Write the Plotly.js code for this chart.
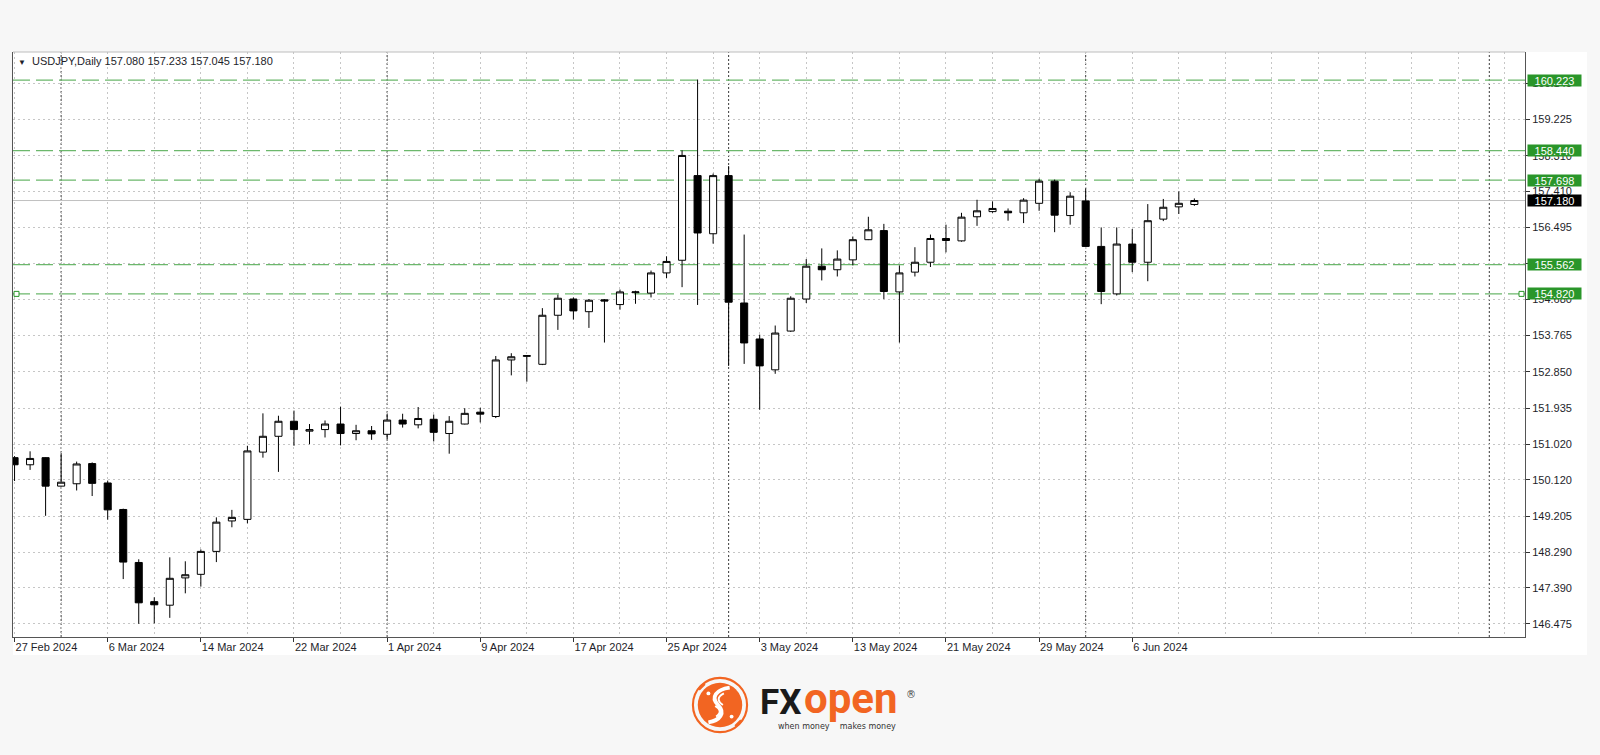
<!DOCTYPE html>
<html>
<head>
<meta charset="utf-8">
<script src="https://cdn.plot.ly/plotly-3.0.1.min.js"></script>
<style>
  html, body { margin: 0; padding: 0; background: #f7f7f7; }
  #chart { width: 1600px; height: 755px; }
</style>
</head>
<body>
<div id="chart"></div>
<script>
// ---- data (USDJPY, Daily) ----
const dates = [
  "2024-02-27","2024-02-28","2024-02-29","2024-03-01",
  "2024-03-04","2024-03-05","2024-03-06","2024-03-07","2024-03-08",
  "2024-03-11","2024-03-12","2024-03-13","2024-03-14","2024-03-15",
  "2024-03-18","2024-03-19","2024-03-20","2024-03-21","2024-03-22",
  "2024-03-25","2024-03-26","2024-03-27","2024-03-28","2024-03-29",
  "2024-04-01","2024-04-02","2024-04-03","2024-04-04","2024-04-05",
  "2024-04-08","2024-04-09","2024-04-10","2024-04-11","2024-04-12",
  "2024-04-15","2024-04-16","2024-04-17","2024-04-18","2024-04-19",
  "2024-04-22","2024-04-23","2024-04-24","2024-04-25","2024-04-26",
  "2024-04-29","2024-04-30","2024-05-01","2024-05-02","2024-05-03",
  "2024-05-06","2024-05-07","2024-05-08","2024-05-09","2024-05-10",
  "2024-05-13","2024-05-14","2024-05-15","2024-05-16","2024-05-17",
  "2024-05-20","2024-05-21","2024-05-22","2024-05-23","2024-05-24",
  "2024-05-27","2024-05-28","2024-05-29","2024-05-30","2024-05-31",
  "2024-06-03","2024-06-04","2024-06-05","2024-06-06","2024-06-07",
  "2024-06-10","2024-06-11","2024-06-12"
];
const openP = [
  150.68,150.50,150.68,149.96,150.02,150.53,150.04,149.37,148.03,147.04,
  146.95,147.64,147.73,148.31,149.08,149.12,150.82,151.22,151.60,151.35,
  151.39,151.53,151.29,151.36,151.27,151.63,151.51,151.65,151.29,151.53,
  151.83,151.72,153.15,153.24,153.04,154.28,154.69,154.37,154.67,154.55,
  154.85,154.84,155.35,155.67,157.81,156.34,157.81,154.59,153.68,152.90,
  153.88,154.69,155.52,155.43,155.68,156.19,156.42,154.87,155.37,155.62,
  156.22,156.16,156.77,156.90,156.91,156.87,157.11,157.67,156.80,157.17,
  156.02,154.82,156.08,155.62,156.71,157.02,157.080
];
const highP = [
  150.72,150.84,150.69,150.79,150.58,150.56,150.10,149.39,148.11,147.15,
  148.16,148.06,148.36,149.17,149.36,150.98,151.80,151.74,151.87,151.53,
  151.62,151.97,151.51,151.48,151.79,151.79,151.96,151.77,151.73,151.93,
  151.94,153.25,153.32,153.27,154.46,154.80,154.73,154.69,154.69,154.93,
  154.90,155.41,155.77,158.45,160.24,157.86,158.05,156.32,153.79,154.02,
  154.76,155.70,155.97,155.92,156.27,156.77,156.59,155.54,156.00,156.32,
  156.57,156.87,157.20,157.16,156.98,157.24,157.73,157.71,157.39,157.49,
  156.50,156.50,156.46,157.09,157.22,157.41,157.233
];
const lowP = [
  150.09,150.37,149.21,149.95,149.85,149.71,149.11,147.61,146.48,146.49,
  146.63,147.25,147.42,148.04,148.92,149.02,150.68,150.32,150.98,151.02,
  151.19,150.99,151.12,151.13,151.15,151.44,151.42,151.09,150.78,151.52,
  151.57,151.68,152.76,152.60,153.02,153.91,154.17,153.96,153.59,154.42,
  154.57,154.73,155.22,154.99,154.54,156.09,153.00,153.05,151.89,152.80,
  153.86,154.59,155.16,155.26,155.54,156.18,154.69,153.59,155.26,155.50,
  155.87,156.14,156.54,156.87,156.67,156.61,156.92,156.38,156.57,156.01,
  154.56,154.78,155.37,155.14,156.66,156.84,157.045
];
const closeP = [
  150.50,150.66,149.96,150.06,150.52,150.03,149.36,148.04,147.01,146.96,
  147.63,147.72,148.31,149.05,149.17,150.85,151.22,151.60,151.39,151.39,
  151.53,151.29,151.36,151.28,151.63,151.53,151.67,151.32,151.60,151.80,
  151.78,153.15,153.23,153.26,154.28,154.71,154.39,154.66,154.64,154.87,
  154.87,155.35,155.64,158.32,156.36,157.81,154.61,153.58,153.00,153.83,
  154.71,155.52,155.43,155.70,156.19,156.44,154.88,155.35,155.62,156.22,
  156.17,156.76,156.92,156.98,156.87,157.19,157.67,156.81,157.29,156.02,
  154.88,156.08,155.62,156.67,157.01,157.11,157.180
];
const tickDates = ["2024-02-27","2024-03-06","2024-03-14","2024-03-22","2024-04-01","2024-04-09",
  "2024-04-17","2024-04-25","2024-05-03","2024-05-13","2024-05-21","2024-05-29","2024-06-06"];
const tickText = ["27 Feb 2024","6 Mar 2024","14 Mar 2024","22 Mar 2024","1 Apr 2024","9 Apr 2024",
  "17 Apr 2024","25 Apr 2024","3 May 2024","13 May 2024","21 May 2024","29 May 2024","6 Jun 2024"];
const priceTicks = [146.475,147.390,148.290,149.205,150.120,151.020,151.935,152.850,153.765,
  154.680,155.580,156.495,157.410,158.310,159.225,160.140];
const separatorDates = ["2024-03-01","2024-04-01","2024-05-01","2024-06-03"];
const futureSeparatorBars = [95];
const levelPrices = [160.223, 158.440, 157.698, 155.562, 154.820];
const selectedLevel = 154.820;
const bidPrice = 157.180;
const symbolName = "USDJPY,Daily";

// ---- geometry / styles ----
const PLOT = {l: 13, r: 75, t: 52, b: 118, W: 1600, H: 755};
const pw = PLOT.W - PLOT.l - PLOT.r, ph = PLOT.H - PLOT.t - PLOT.b;
const px2x = px => (px - PLOT.l) / pw;
const py2y = py => (PLOT.H - PLOT.b - py) / ph;

const xIdx = dates.map((d, i) => i);
const tickVals = tickDates.map(d => dates.indexOf(d));
const sepBars = separatorDates.map(d => dates.indexOf(d)).concat(futureSeparatorBars);

const GRID = '#c6c6c6';
const GREEN_LINE = '#6cb86c';
const GREEN_BOX = '#2a962a';
const AXIS_FONT = {family: 'Liberation Sans, Arial, sans-serif', size: 11, color: '#1e1e2a'};

const trace = {
  type: 'candlestick',
  x: xIdx, open: openP, high: highP, low: lowP, close: closeP,
  increasing: {line: {color: '#000000', width: 1}, fillcolor: '#ffffff'},
  decreasing: {line: {color: '#000000', width: 1}, fillcolor: '#000000'},
  whiskerwidth: 0,
  hoverinfo: 'skip',
  showlegend: false
};

const shapes = [];
// white panel behind chart and axes
shapes.push({type: 'rect', layer: 'below', xref: 'paper', yref: 'paper',
  x0: 0, x1: px2x(1587), y0: py2y(655), y1: 1, fillcolor: '#ffffff', line: {width: 0}});
// top border
shapes.push({type: 'line', xref: 'paper', yref: 'paper', x0: 0, x1: 1, y0: 1, y1: 1,
  line: {color: '#bdbdbd', width: 1}});
// period separators
sepBars.forEach(b => shapes.push({type: 'line', layer: 'below', xref: 'x', yref: 'paper',
  x0: b, x1: b, y0: 0, y1: 1, line: {color: '#3a3a3a', width: 1, dash: '2px,2px'}}));
// level lines
levelPrices.forEach(p => shapes.push({type: 'line', layer: 'below', xref: 'paper', yref: 'y',
  x0: 0, x1: 1, y0: p, y1: p, line: {color: GREEN_LINE, width: 1.2, dash: '17px,6px'}}));
// selection handles on the selected level line
[[0, 1, 6], [1, -6, -1]].forEach(([anchor, a, b]) => shapes.push({
  type: 'rect', xref: 'paper', yref: 'y', xsizemode: 'pixel', ysizemode: 'pixel',
  xanchor: anchor, yanchor: selectedLevel, x0: a, x1: b, y0: -2.5, y1: 2.5,
  line: {color: '#2a962a', width: 1}, fillcolor: '#ffffff'}));
// bid line
shapes.push({type: 'line', layer: 'below', xref: 'paper', yref: 'y', x0: 0, x1: 1,
  y0: bidPrice, y1: bidPrice, line: {color: '#c0c0c0', width: 1}});

const annotations = [];
levelPrices.forEach(p => annotations.push({
  xref: 'paper', yref: 'y', x: 1, y: p, xanchor: 'left', yanchor: 'middle', xshift: 2,
  text: p.toFixed(3), showarrow: false, bgcolor: GREEN_BOX, borderpad: 0,
  width: 53, height: 11, align: 'center',
  font: {family: AXIS_FONT.family, size: 11, color: '#ffffff'}
}));
annotations.push({
  xref: 'paper', yref: 'y', x: 1, y: bidPrice, xanchor: 'left', yanchor: 'middle', xshift: 2,
  text: bidPrice.toFixed(3), showarrow: false, bgcolor: '#000000', borderpad: 0,
  width: 53, height: 11, align: 'center',
  font: {family: AXIS_FONT.family, size: 11, color: '#ffffff'}
});
const last = closeP.length - 1;
annotations.push({
  xref: 'paper', yref: 'paper', x: px2x(16), y: 1, xanchor: 'left', yanchor: 'top', yshift: -1,
  showarrow: false, align: 'left',
  text: '<span style="font-size:8px">▼</span>  ' + symbolName + ' ' +
        [openP[last], highP[last], lowP[last], closeP[last]].map(v => v.toFixed(3)).join(' '),
  font: {family: AXIS_FONT.family, size: 11, color: '#1e1e2a'}
});
// logo text
annotations.push({xref: 'paper', yref: 'paper', x: px2x(758), y: py2y(702), xanchor: 'left', yanchor: 'middle',
  text: '<b>FX</b>', showarrow: false,
  font: {family: 'Roboto, Liberation Sans, sans-serif', size: 35, color: '#1a1a1a', weight: 900}});
annotations.push({xref: 'paper', yref: 'paper', x: px2x(802), y: py2y(698), xanchor: 'left', yanchor: 'middle',
  text: '<b>open</b>', showarrow: false,
  font: {family: 'Roboto, Liberation Sans, sans-serif', size: 42, color: '#f26522', weight: 900}});
annotations.push({xref: 'paper', yref: 'paper', x: px2x(904), y: py2y(694), xanchor: 'left', yanchor: 'middle',
  text: '®', showarrow: false,
  font: {family: 'DejaVu Sans, sans-serif', size: 10, color: '#444444'}});
annotations.push({xref: 'paper', yref: 'paper', x: px2x(776), y: py2y(726), xanchor: 'left', yanchor: 'middle',
  text: 'when money&nbsp;&nbsp;&nbsp;&nbsp;makes money', showarrow: false,
  font: {family: 'DejaVu Sans, sans-serif', size: 8, color: '#333333'}});

const bullSvg =
  '<svg xmlns="http://www.w3.org/2000/svg" width="60" height="60" viewBox="0 0 60 60">' +
  '<circle cx="30" cy="30" r="28" fill="none" stroke="#f26522" stroke-width="2.2"/>' +
  '<circle cx="30" cy="30" r="23" fill="#f26522"/>' +
  '<path d="M40 12 C 26 14, 20 22, 28 30 C 36 38, 30 46, 18 48" fill="none" stroke="#ffffff" stroke-width="4"/>' +
  '<path d="M34 18 C 26 22, 28 27, 33 30" fill="none" stroke="#ffffff" stroke-width="2"/>' +
  '<path d="M26 42 C 32 38, 30 34, 25 31" fill="none" stroke="#ffffff" stroke-width="2"/>' +
  '<circle cx="18" cy="18" r="2" fill="#ffffff"/><circle cx="42" cy="42" r="2" fill="#ffffff"/>' +
  '<path d="M8 14 L14 8 M46 52 L52 46" stroke="#f26522" stroke-width="3"/>' +
  '</svg>';

const layout = {
  width: PLOT.W, height: PLOT.H,
  margin: {l: PLOT.l, r: PLOT.r, t: PLOT.t, b: PLOT.b, pad: 0},
  paper_bgcolor: '#f7f7f7', plot_bgcolor: '#ffffff',
  showlegend: false,
  boxgap: 0.35,
  dragmode: false,
  xaxis: {
    type: 'linear', range: [-0.1, 97.3], fixedrange: true,
    rangeslider: {visible: false},
    tickmode: 'array', tickvals: tickVals, ticktext: tickText,
    ticks: 'outside', ticklen: 4, tickcolor: '#333333', tickwidth: 1,
    ticklabelposition: 'outside right',
    tickfont: AXIS_FONT,
    showline: true, linecolor: '#555555', linewidth: 1,
    showgrid: true, gridcolor: GRID, griddash: '2px,3px', gridwidth: 1,
    minor: {tickmode: 'linear', tick0: 0, dtick: 3, showgrid: true, gridcolor: GRID,
            griddash: '2px,3px', gridwidth: 1, ticks: ''},
    zeroline: false
  },
  yaxis: {
    side: 'right', range: [146.146, 160.935], fixedrange: true,
    tickmode: 'array', tickvals: priceTicks, ticktext: priceTicks.map(v => v.toFixed(3)),
    ticks: 'outside', ticklen: 4, tickcolor: '#333333', tickwidth: 1,
    tickfont: AXIS_FONT,
    showline: true, linecolor: '#555555', linewidth: 1, mirror: true,
    showgrid: true, gridcolor: GRID, griddash: '2px,3px', gridwidth: 1,
    zeroline: false
  },
  shapes: shapes,
  annotations: annotations,
  images: [{
    source: 'data:image/svg+xml;charset=utf-8,' + encodeURIComponent(bullSvg),
    xref: 'paper', yref: 'paper', x: px2x(691), y: py2y(676),
    sizex: 58 / pw, sizey: 58 / ph, xanchor: 'left', yanchor: 'top', sizing: 'stretch', layer: 'above'
  }]
};

Plotly.newPlot('chart', [trace], layout, {displayModeBar: false, staticPlot: true});
</script>
</body>
</html>
